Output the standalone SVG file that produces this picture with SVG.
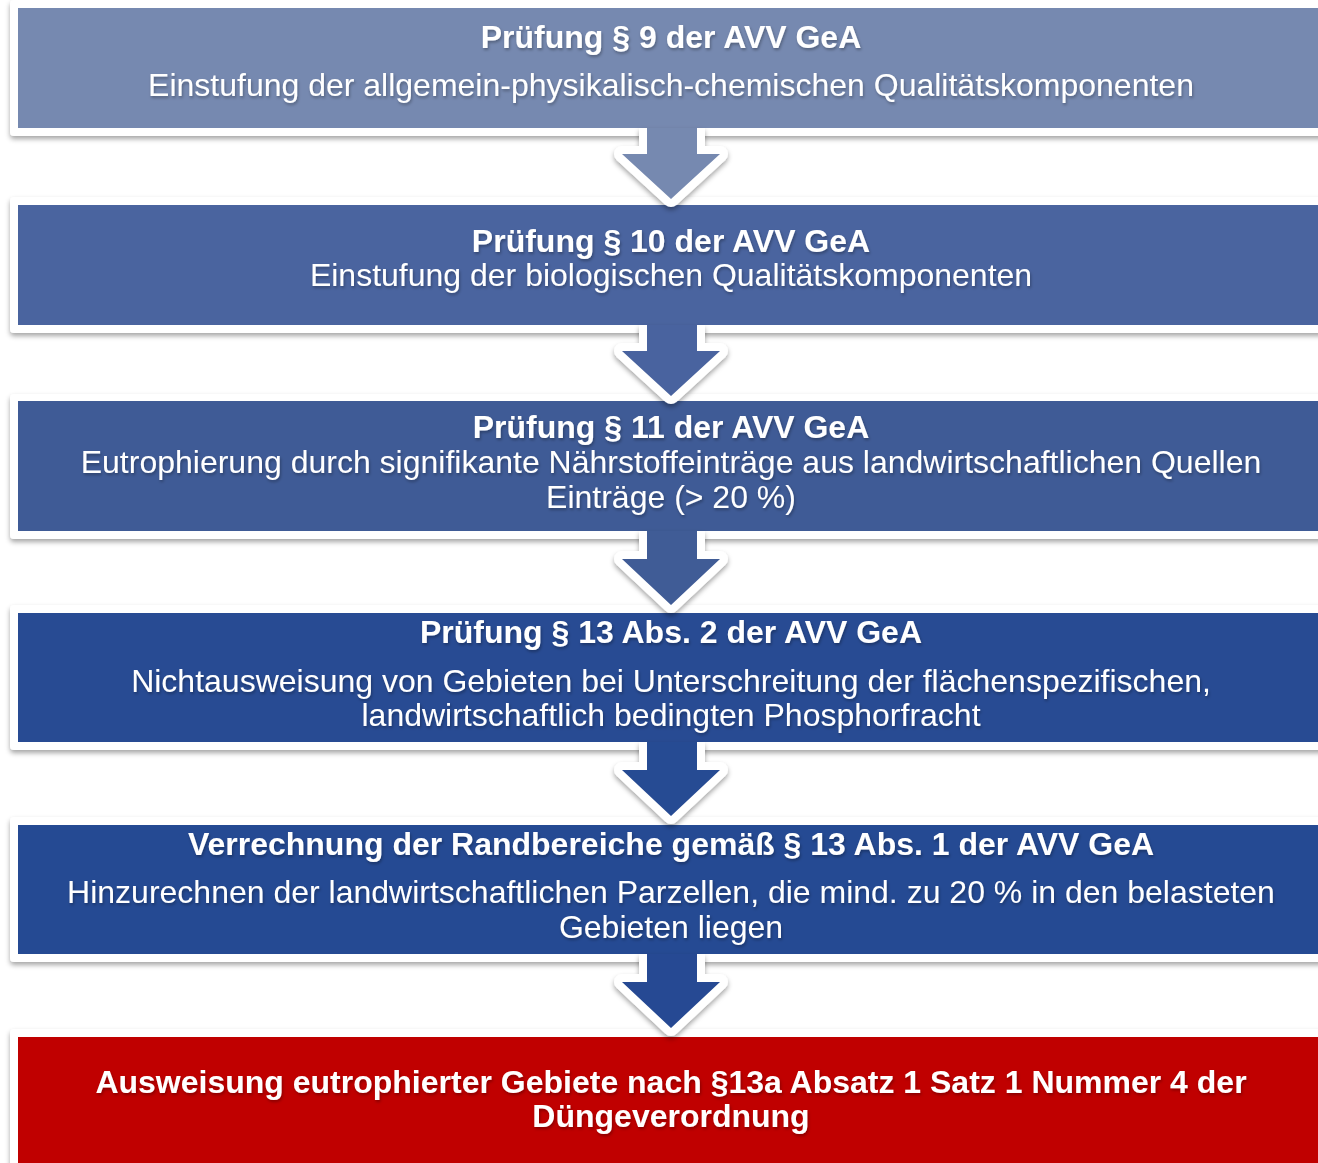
<svg xmlns="http://www.w3.org/2000/svg" width="1318" height="1163" viewBox="0 0 1318 1163">
<defs>
<filter id="boxShadow" x="-5%" y="-10%" width="110%" height="130%">
<feDropShadow dx="0" dy="3" stdDeviation="2.5" flood-color="#000" flood-opacity="0.35"/>
</filter>
<filter id="textShadow" x="-5%" y="-30%" width="110%" height="160%">
<feDropShadow dx="1" dy="2" stdDeviation="1.5" flood-color="#000" flood-opacity="0.3"/>
</filter>
<filter id="arrowShadow" x="-30%" y="-30%" width="160%" height="160%">
<feDropShadow dx="0" dy="3" stdDeviation="2.5" flood-color="#000" flood-opacity="0.35"/>
</filter>
<clipPath id="c1"><rect x="560" y="128" width="220" height="100"/></clipPath>
<clipPath id="c2"><rect x="560" y="325" width="220" height="100"/></clipPath>
<clipPath id="c3"><rect x="560" y="531" width="220" height="100"/></clipPath>
<clipPath id="c4"><rect x="560" y="742" width="220" height="100"/></clipPath>
<clipPath id="c5"><rect x="560" y="954" width="220" height="100"/></clipPath>
</defs>
<style>
.frame{fill:#ffffff;filter:url(#boxShadow)}
.t{font-family:"Liberation Sans",Arial,sans-serif;font-size:32px;fill:#ffffff;text-anchor:middle;filter:url(#textShadow)}
.b{font-weight:bold}
.arrow{stroke:#ffffff;stroke-width:16;stroke-linejoin:round;paint-order:stroke}
.ash{filter:url(#arrowShadow)}
</style>
<rect x="0" y="0" width="1318" height="1163" fill="#ffffff"/>
<g id="node1">
<rect class="frame" x="10" y="0" width="1330" height="136" rx="4"/>
<rect x="18" y="8" width="1310" height="120" fill="#7689b0"/>
<text class="t b" x="671" y="48">Prüfung § 9 der AVV GeA</text>
<text class="t" x="671" y="96">Einstufung der allgemein-physikalisch-chemischen Qualitätskomponenten</text>
</g>
<g id="node2">
<rect class="frame" x="10" y="197" width="1330" height="136" rx="4"/>
<rect x="18" y="205" width="1310" height="120" fill="#4a649f"/>
<text class="t b" x="671" y="252">Prüfung § 10 der AVV GeA</text>
<text class="t" x="671" y="286">Einstufung der biologischen Qualitätskomponenten</text>
</g>
<g id="node3">
<rect class="frame" x="10" y="394" width="1330" height="145" rx="4"/>
<rect x="18" y="401" width="1310" height="130" fill="#3f5b96"/>
<text class="t b" x="671" y="438">Prüfung § 11 der AVV GeA</text>
<text class="t" x="671" y="473">Eutrophierung durch signifikante Nährstoffeinträge aus landwirtschaftlichen Quellen</text>
<text class="t" x="671" y="508">Einträge (&gt; 20 %)</text>
</g>
<g id="node4">
<rect class="frame" x="10" y="605" width="1330" height="145" rx="4"/>
<rect x="18" y="613" width="1310" height="129" fill="#284b93"/>
<text class="t b" x="671" y="643">Prüfung § 13 Abs. 2 der AVV GeA</text>
<text class="t" x="671" y="692">Nichtausweisung von Gebieten bei Unterschreitung der flächenspezifischen,</text>
<text class="t" x="671" y="726">landwirtschaftlich bedingten Phosphorfracht</text>
</g>
<g id="node5">
<rect class="frame" x="10" y="817" width="1330" height="145" rx="4"/>
<rect x="18" y="825" width="1310" height="129" fill="#254a93"/>
<text class="t b" x="671" y="855">Verrechnung der Randbereiche gemäß § 13 Abs. 1 der AVV GeA</text>
<text class="t" x="671" y="903">Hinzurechnen der landwirtschaftlichen Parzellen, die mind. zu 20 % in den belasteten</text>
<text class="t" x="671" y="938">Gebieten liegen</text>
</g>
<g id="node6">
<rect class="frame" x="10" y="1029" width="1330" height="150" rx="4"/>
<rect x="18" y="1037" width="1310" height="140" fill="#c00000"/>
<text class="t b" x="671" y="1093">Ausweisung eutrophierter Gebiete nach §13a Absatz 1 Satz 1 Nummer 4 der</text>
<text class="t b" x="671" y="1127">Düngeverordnung</text>
</g>
<g id="connectors">
<g class="ash"><g clip-path="url(#c1)"><path class="arrow" fill="#7689b0" d="M647,100 H697 V154 H720 L671,199 L622,154 H647 Z"/></g></g>
<g class="ash"><g clip-path="url(#c2)"><path class="arrow" fill="#4a649f" d="M647,297 H697 V351 H720 L671,396 L622,351 H647 Z"/></g></g>
<g class="ash"><g clip-path="url(#c3)"><path class="arrow" fill="#3f5b96" d="M647,503 H697 V559 H720 L671,605 L622,559 H647 Z"/></g></g>
<g class="ash"><g clip-path="url(#c4)"><path class="arrow" fill="#284b93" d="M647,714 H697 V770 H720 L671,816 L622,770 H647 Z"/></g></g>
<g class="ash"><g clip-path="url(#c5)"><path class="arrow" fill="#254a93" d="M647,926 H697 V982 H720 L671,1028 L622,982 H647 Z"/></g></g>
</g>
</svg>
